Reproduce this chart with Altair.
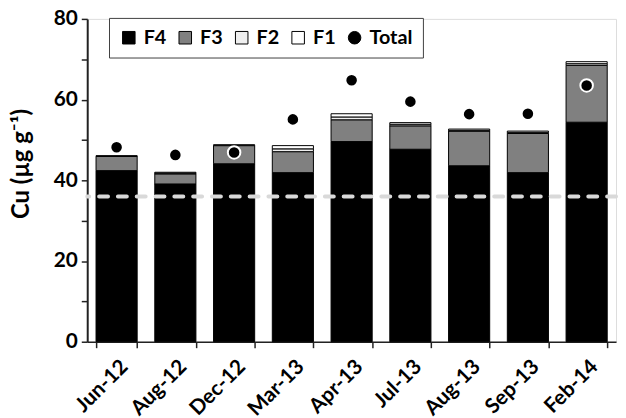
import altair as alt
import pandas as pd

dates = ["Jun-12", "Aug-12", "Dec-12", "Mar-13", "Apr-13", "Jul-13", "Aug-13", "Sep-13", "Feb-14"]
f4 = [42.4, 39.1, 44.1, 41.9, 49.6, 47.7, 43.6, 41.9, 54.4]
f3 = [3.5, 2.5, 4.5, 5.2, 5.4, 5.8, 8.6, 9.7, 14.1]
f2 = [0.1, 0.2, 0.1, 0.7, 0.7, 0.4, 0.2, 0.3, 0.4]
f1 = [0.1, 0.2, 0.1, 0.8, 0.8, 0.4, 0.3, 0.3, 0.5]
totals = [48.2, 46.3, 46.9, 55.1, 64.8, 59.5, 56.4, 56.5, 63.5]
background_level = 36

fractions = ["F4", "F3", "F2", "F1", "Total"]
colors = ["#000000", "#808080", "#efefef", "#ffffff", "#000000"]
shapes = ["square", "square", "square", "square", "circle"]

rows = []
for i, d in enumerate(dates):
    for k, (name, vals) in enumerate(zip(["F4", "F3", "F2", "F1"], [f4, f3, f2, f1])):
        rows.append({"Date": d, "Fraction": name, "Value": vals[i], "Order": k})
bars_df = pd.DataFrame(rows)
tot_df = pd.DataFrame({"Date": dates, "Value": totals, "Fraction": ["Total"] * len(dates)})

FONT = "Lato"

x_enc = alt.X(
    "Date:N", sort=dates, title=None,
    scale=alt.Scale(paddingInner=0.3, paddingOuter=0.15),
    axis=alt.Axis(labelAngle=-45, labelAlign="right", labelBaseline="top",
                  labelFontSize=21, labelFontWeight="bold", labelFont=FONT,
                  labelColor="#000000", labelPadding=8,
                  tickBand="extent", tickSize=6, tickColor="#222222", tickWidth=1.5,
                  domainColor="#222222", domainWidth=1.5),
)
y_scale = alt.Scale(domain=[0, 80], nice=False)
y_axis = alt.Axis(values=list(range(0, 81, 10)),
                  labelExpr="datum.value % 20 == 0 ? datum.label : ''",
                  labelFontSize=21, labelFontWeight="bold", labelFont=FONT, labelColor="#000000",
                  labelPadding=4, tickSize=6, tickColor="#222222", tickWidth=1.5,
                  domainColor="#222222", domainWidth=2, grid=False,
                  title="Cu (µg g⁻¹)", titleFontSize=24, titleFont=FONT, titleFontWeight="bold",
                  titleColor="#000000", titlePadding=20, titleY=146)

color_scale = alt.Scale(domain=fractions, range=colors)
legend = alt.Legend(title=None, orient="none", direction="horizontal", legendX=22, legendY=-1,
                    labelFontSize=20, labelFont=FONT, labelFontWeight="bold", labelColor="#000000",
                    symbolSize=160, symbolStrokeColor="#000000", symbolStrokeWidth=1,
                    strokeColor="#404040", padding=10, columnPadding=9, labelOffset=5,
                    fillColor="white")

bars = alt.Chart(bars_df).mark_bar(stroke="#000000", strokeWidth=1).encode(
    x=x_enc,
    y=alt.Y("Value:Q", stack="zero", scale=y_scale, axis=y_axis),
    color=alt.Color("Fraction:N", scale=color_scale, legend=legend),
    order=alt.Order("Order:Q", sort="ascending"),
)

rule = alt.Chart(pd.DataFrame({"v": [background_level]})).mark_rule(
    color="#d9d9d9", strokeWidth=4, strokeDash=[9, 10], strokeCap="round"
).encode(y=alt.Y("v:Q", scale=y_scale))

points = alt.Chart(tot_df).mark_point(filled=True, stroke="#ffffff", strokeWidth=2, opacity=1, size=160).encode(
    x=alt.X("Date:N", sort=dates),
    y=alt.Y("Value:Q", scale=y_scale),
    color=alt.Color("Fraction:N", scale=color_scale, legend=legend),
    shape=alt.Shape("Fraction:N", scale=alt.Scale(domain=fractions, range=shapes), legend=legend),
)

chart = alt.layer(bars, rule, points).properties(
    width=534, height=326,
    autosize=alt.AutoSizeParams(type="none"),
    padding={"left": 80, "top": 9, "right": 2, "bottom": 75},
).configure_view(stroke=None).configure(background="white")

chart.save("out.html", embed_options={"renderer": "svg", "actions": False})
